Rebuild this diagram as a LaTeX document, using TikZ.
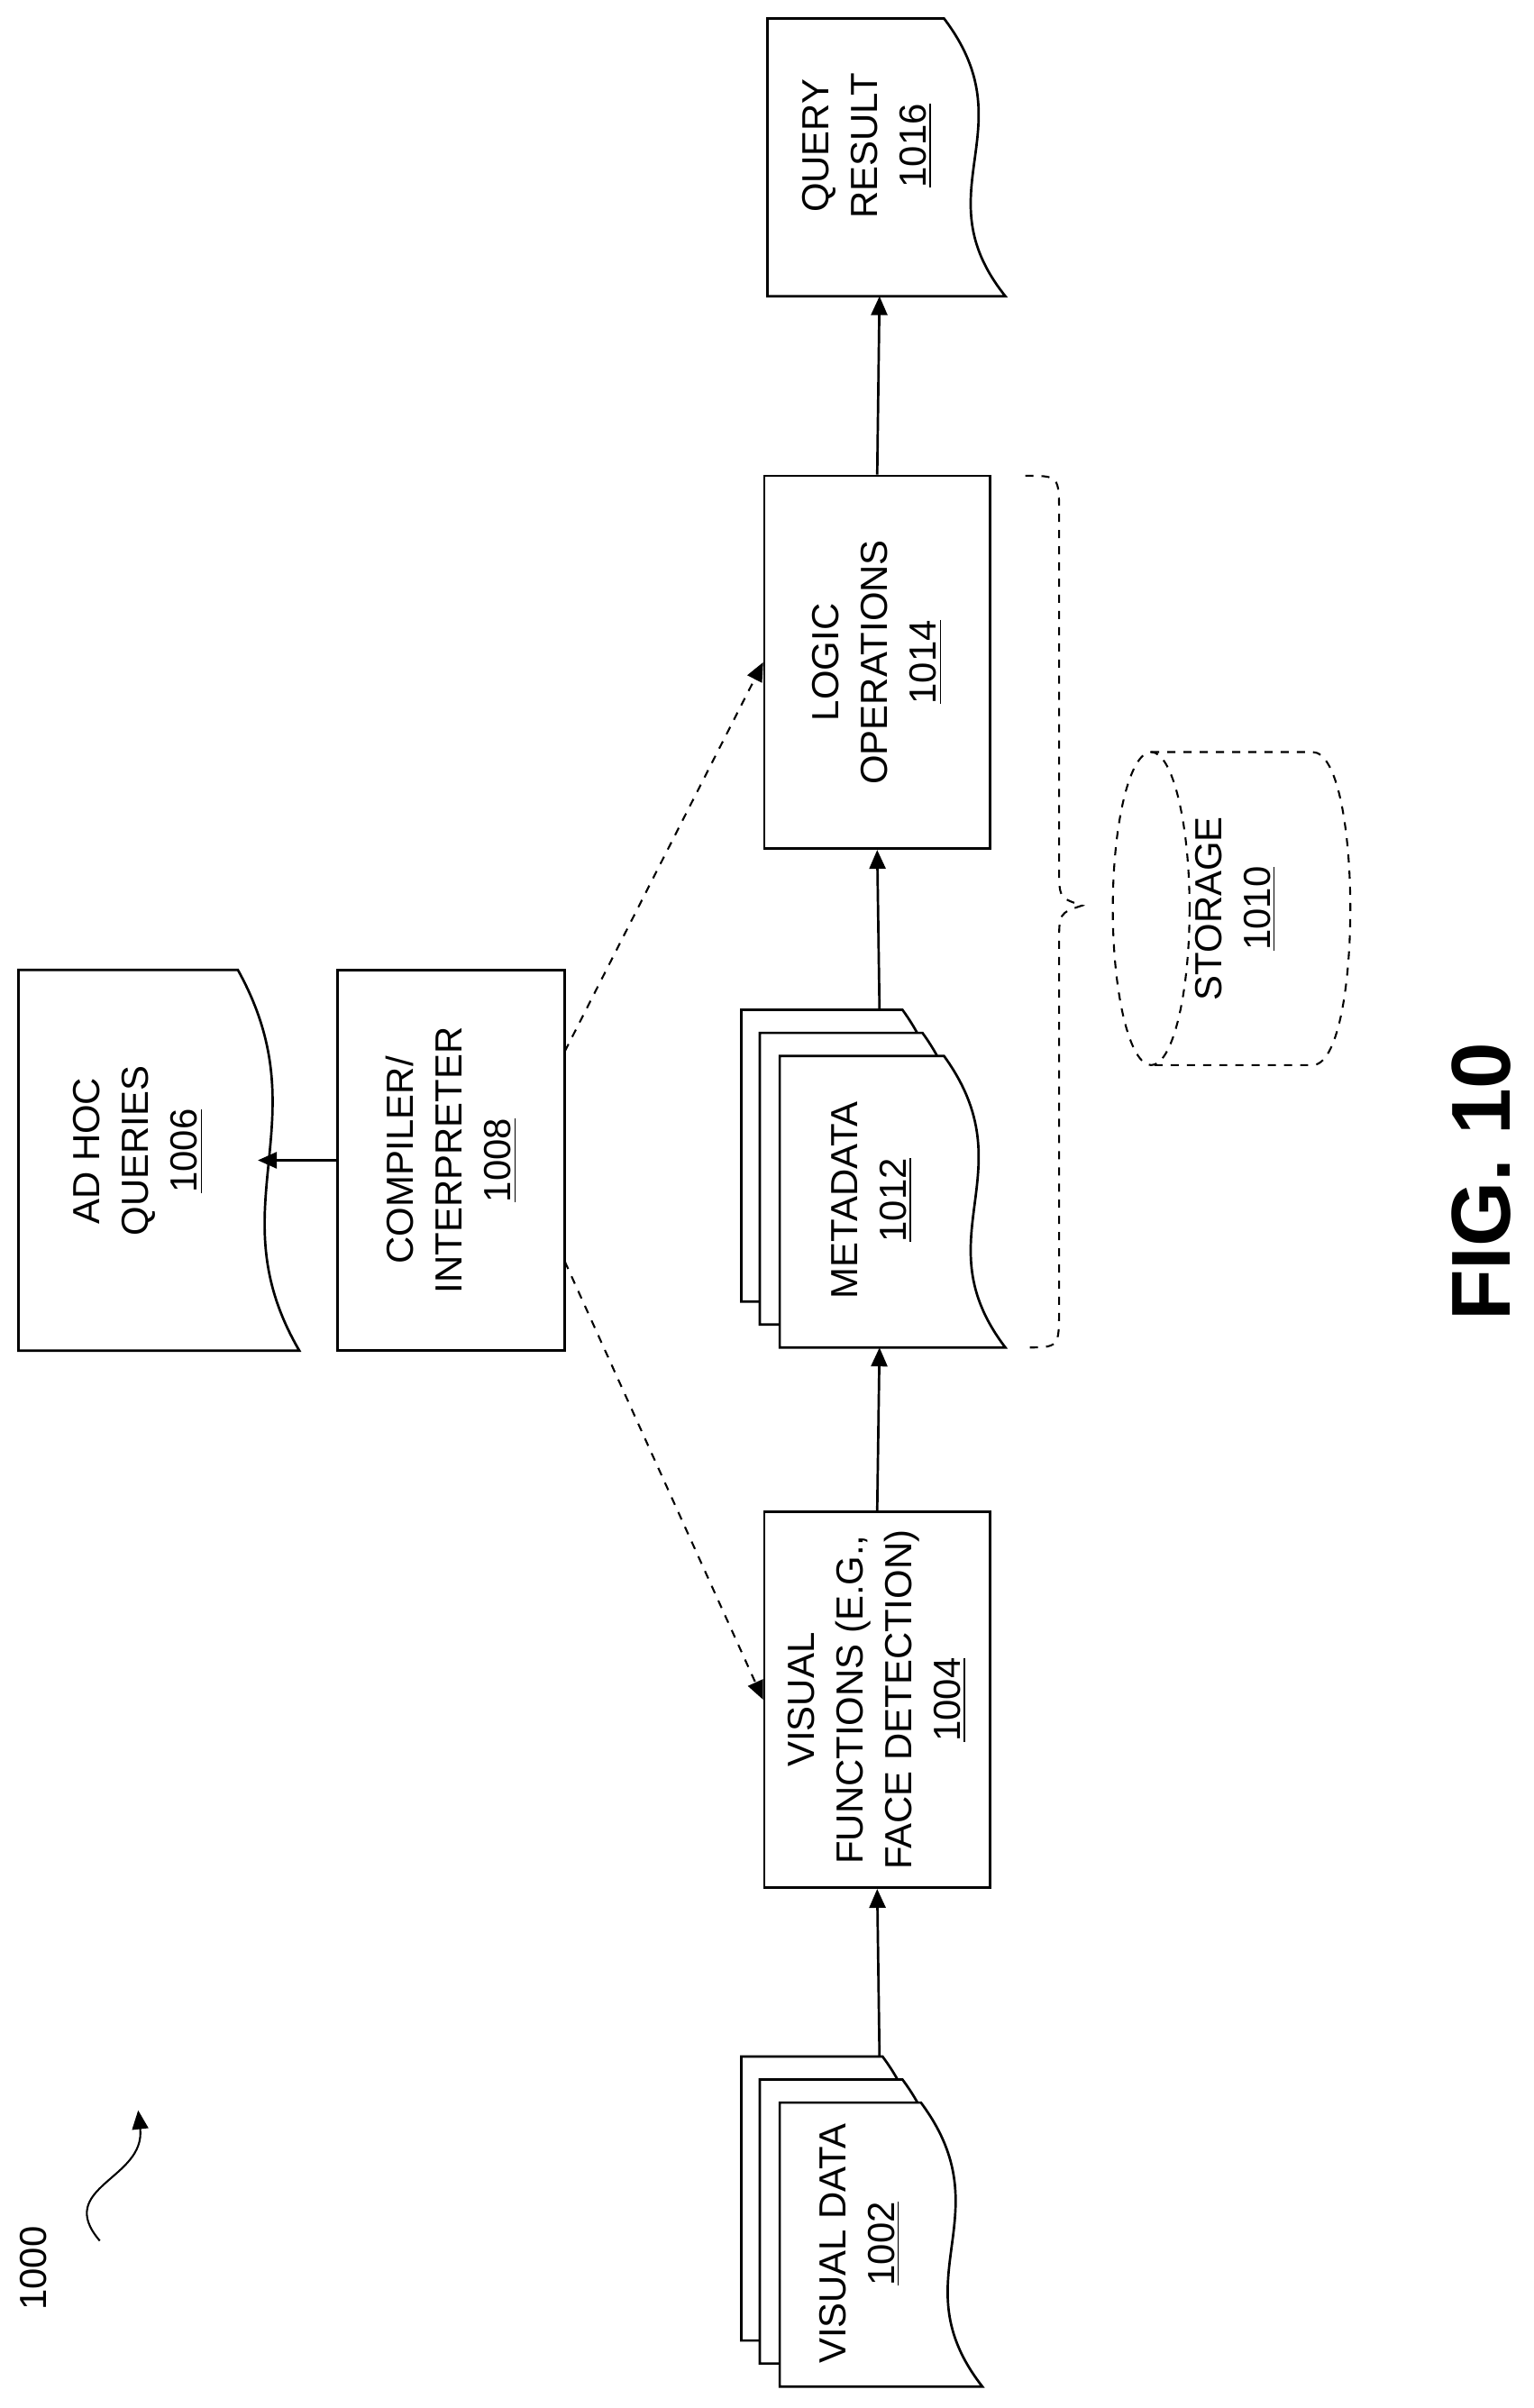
\documentclass[tikz,border=0pt]{standalone}
\usepackage{fontspec}
\setmainfont{Liberation Sans}
\usetikzlibrary{arrows.meta,positioning}

\newcommand{\lbl}{\fontsize{14}{18}\selectfont}
% page with a wavy right edge: x1 y1 x2 y2
\newcommand{\docpage}[4]{%
  \filldraw[fill=white] (#1,#2) -- ({#3-40},#2)
    .. controls ({#3+15},{#2+0.4*(#4-#2)}) and ({#3-55},{#2+0.62*(#4-#2)}) .. (#3,#4)
    -- (#1,#4) -- cycle;}

\begin{document}
\begin{tikzpicture}[x=0.02cm,y=-0.02cm,line width=0.9pt,
    box/.style={draw,rotate=90,align=center,font=\lbl,inner sep=0pt},
    txt/.style={rotate=90,align=center,font=\lbl},
    flow/.style={-{Triangle[length=7pt,width=6pt]}},
    link/.style={dashed,line width=0.7pt,-{Triangle[length=7pt,width=6pt]}}]
  \useasboundingbox (0,0) rectangle (999,1569);

  % visual data stack
  \docpage{483}{1340}{615}{1525}
  \docpage{495}{1355}{628}{1540}
  \docpage{508}{1370}{640}{1555}
  \node[txt] (vd) at (560,1462) {VISUAL DATA\\\underline{1002}};
  \coordinate (vd-top) at (573,1340);

  \node[box,minimum width=4.9cm,minimum height=2.94cm] (vf) at (571.5,1107.5)
    {VISUAL\\FUNCTIONS (E.G.,\\FACE DETECTION)\\\underline{1004}};

  % metadata stack
  \docpage{483}{658}{628}{848}
  \docpage{495}{673}{641}{863}
  \docpage{508}{688}{655}{878}
  \node[txt] (md) at (568,782) {METADATA\\\underline{1012}};
  \coordinate (md-bot) at (573,878);
  \coordinate (md-top) at (573,658);

  \node[box,minimum width=4.86cm,minimum height=2.94cm] (lo) at (571.5,431.5)
    {LOGIC\\OPERATIONS\\\underline{1014}};

  % query result
  \docpage{500}{12}{655}{193}
  \node[txt] (qr) at (565,95) {QUERY\\RESULT\\\underline{1016}};
  \coordinate (qr-in) at (573,193);

  \node[box,minimum width=4.96cm,minimum height=2.96cm] (cmp) at (294,756)
    {COMPILER/\\INTERPRETER\\\underline{1008}};

  % ad hoc queries
  \docpage{12}{632}{195}{880}
  \node[txt] (ah) at (90,750) {AD HOC\\QUERIES\\\underline{1006}};
  \coordinate (ah-in) at (168,756);

  \draw[flow] (vd-top) -- (vf.west);
  \draw[flow] (vf.east) -- (md-bot);
  \draw[flow] (md-top) -- (lo.west);
  \draw[flow] (lo.east) -- (qr-in);
  \draw[flow] (cmp.north) -- (ah-in);

  \coordinate (cmp-a) at (368,685);
  \coordinate (cmp-b) at (368,822);
  \draw[link] (cmp-a) -- (lo.north);
  \draw[link] (cmp-b) -- (vf.north);

  % brace
  \draw[dashed,line width=0.7pt] (668,310) .. controls (690,310) .. (690,335)
    -- (690,565) .. controls (690,585) .. (705,590) .. controls (690,595) .. (690,615)
    -- (690,853) .. controls (690,878) .. (668,878);

  % storage
  \draw[dashed,line width=0.7pt] (750,592) ellipse [x radius=25,y radius=102];
  \draw[dashed,line width=0.7pt] (750,490) -- (855,490)
    .. controls (888,490) and (888,694) .. (855,694) -- (750,694);
  \node[txt] (st) at (805,592) {STORAGE\\\underline{1010}};

  \node[rotate=90,font=\bfseries\fontsize{31}{36}\selectfont] (fig) at (965,770) {FIG. 10};

  \node[txt] (ref) at (22,1478) {1000};
  \coordinate (ref-a) at (65,1460);
  \coordinate (ref-b) at (90,1375);
  \draw[flow,line width=0.7pt] (ref-a) .. controls (35,1425) and (95,1420) .. (ref-b);
\end{tikzpicture}
\end{document}
